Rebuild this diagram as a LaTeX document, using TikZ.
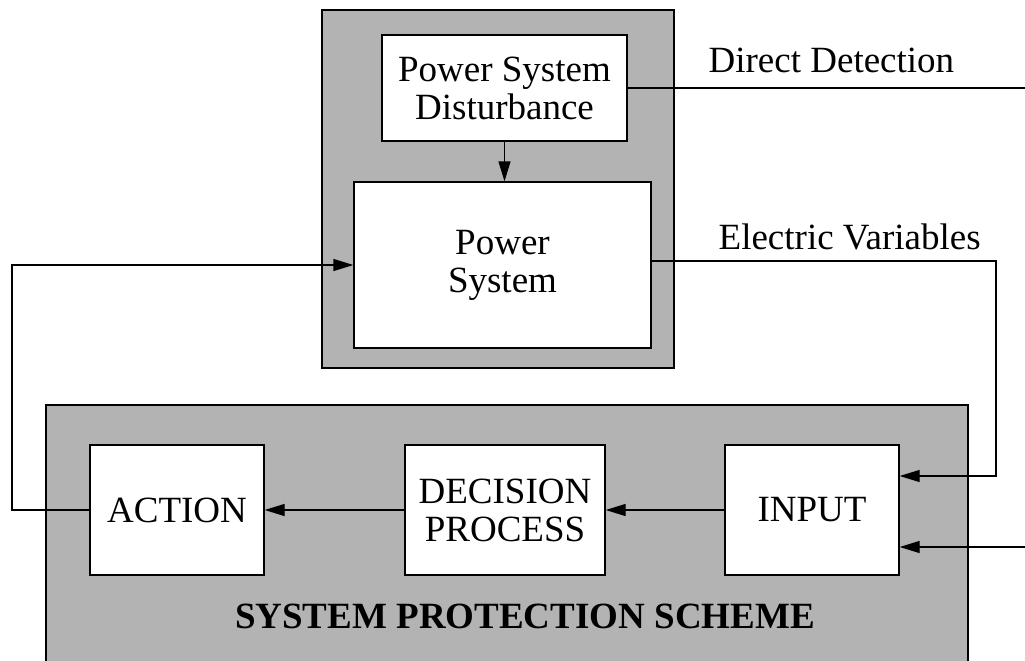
\documentclass[tikz,border=0pt]{standalone}
\usepackage{fontspec}
\setmainfont{Liberation Serif}
\usetikzlibrary{arrows.meta}
\definecolor{panel}{RGB}{179,179,179}
\begin{document}
\begin{tikzpicture}[x=1pt,y=-1pt, line width=1.3pt,
  panelbox/.style={draw=black, fill=panel, line width=1.3pt, inner sep=0pt},
  whitebox/.style={draw=black, fill=white, line width=1.3pt, inner sep=0pt, align=center, font=\fontsize{37}{38}\selectfont},
  lbl/.style={font=\fontsize{37}{38}\selectfont, inner sep=0pt},
  arr/.style={-{Triangle[length=20pt,width=12pt]}}]
\useasboundingbox (0,0) rectangle (1025,661);
% panels
\node[panelbox, minimum width=352pt, minimum height=358pt] (upper) at (498,189) {};
\node[panelbox, minimum width=922pt, minimum height=280pt] (lower) at (507,545) {};
% boxes
\node[whitebox, minimum width=245pt, minimum height=106pt] (psd) at (504.5,88) {Power System\\Disturbance};
\node[whitebox, minimum width=297pt, minimum height=166pt] (ps) at (502.5,265) {Power\\System};
\node[whitebox, minimum width=174pt, minimum height=130pt] (action) at (177,510) {ACTION};
\node[whitebox, minimum width=200pt, minimum height=130pt] (dec) at (505,510) {DECISION\\PROCESS};
\node[whitebox, minimum width=174pt, minimum height=130pt] (input) at (812,510) {INPUT};
% labels
\node[lbl, anchor=base west] (ddlabel) at (708,72) {Direct Detection};
\node[lbl, anchor=base west] (evlabel) at (718,249) {Electric Variables};
\node[lbl, anchor=base, font=\fontsize{37}{38}\selectfont\bfseries] (spslabel) at (525,628) {SYSTEM PROTECTION SCHEME};
% coordinates
\coordinate (ddend) at (1025,88);
\coordinate (evx) at (996,370);
\coordinate (fbx) at (12,400);
\coordinate (in2) at (1025,547);
% connectors
\draw[arr] (psd.south) -- (psd.south |- ps.north);
\draw (psd.east) -- (ddend);
\draw[arr] ([yshift=4pt]ps.east) -| (evx) |- ([yshift=34pt]input.east);
\draw[arr] (in2) -- (in2 -| input.east);
\draw[arr] (input) -- (dec);
\draw[arr] (dec) -- (action);
\draw[arr] (action.west) -| (fbx) |- (ps.west);
\end{tikzpicture}
\end{document}
